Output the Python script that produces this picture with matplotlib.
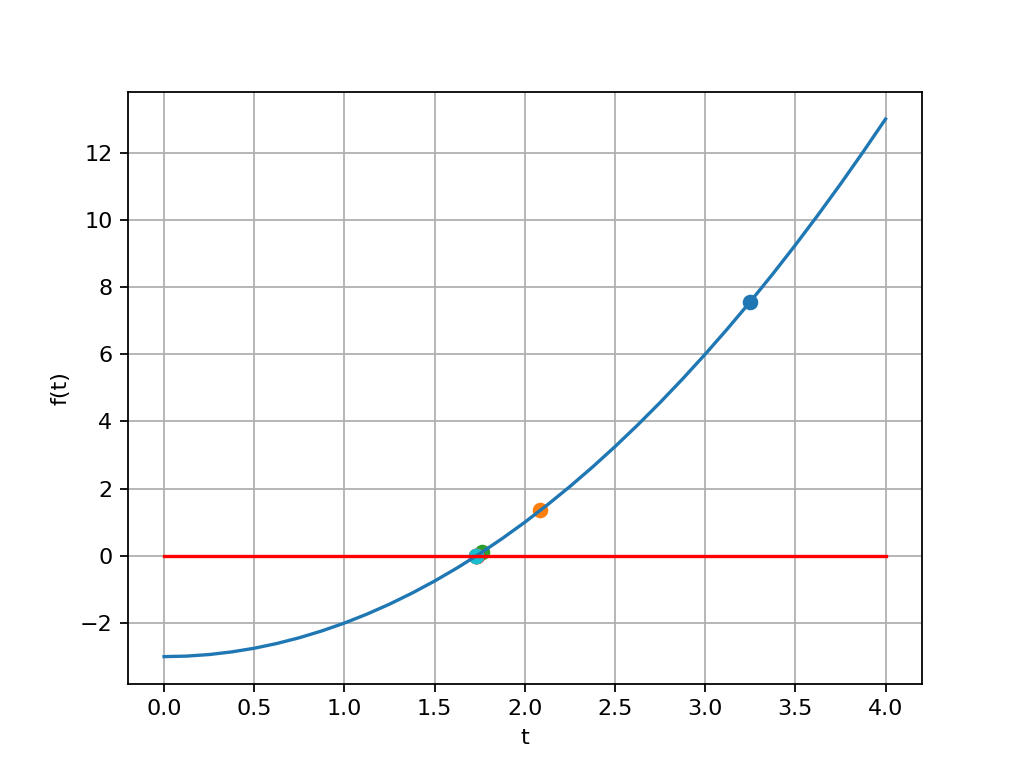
import matplotlib
matplotlib.use('Agg')
import matplotlib.pyplot as plt

# 曲線 f(t) の読み取り値
t_curve = [0.0, 0.125, 0.25, 0.375, 0.5, 0.625, 0.75, 0.875, 1.0, 1.125, 1.25,
           1.375, 1.5, 1.625, 1.75, 1.875, 2.0, 2.125, 2.25, 2.375, 2.5, 2.625,
           2.75, 2.875, 3.0, 3.125, 3.25, 3.375, 3.5, 3.625, 3.75, 3.875, 4.0]
f_curve = [-3.0, -2.984, -2.9375, -2.859, -2.75, -2.609, -2.4375, -2.234, -2.0,
           -1.734, -1.4375, -1.109, -0.75, -0.359, 0.0625, 0.516, 1.0, 1.516,
           2.0625, 2.641, 3.25, 3.891, 4.5625, 5.266, 6.0, 6.766, 7.5625, 8.391,
           9.25, 10.141, 11.0625, 12.016, 13.0]

# 反復点
t_pts = [3.25, 2.0865, 1.7622, 1.7323, 1.7321, 1.7321, 1.7321, 1.7321, 1.7321, 1.7321]
f_pts = [7.5625, 1.3536, 0.1052, 0.0009, 0.0, 0.0, 0.0, 0.0, 0.0, 0.0]

# ゼロライン
t_zero = [0.0, 4.0]
f_zero = [0.0, 0.0]

fig, ax = plt.subplots(figsize=(6.4, 4.8), dpi=160)
ax.plot(t_curve, f_curve)
ax.plot(t_zero, f_zero, color='red')
for tp, fp in zip(t_pts, f_pts):
    ax.scatter(tp, fp)

ax.set_xlabel('t')
ax.set_ylabel('f(t)')
ax.grid(True)
fig.savefig('out.png', dpi=160)
